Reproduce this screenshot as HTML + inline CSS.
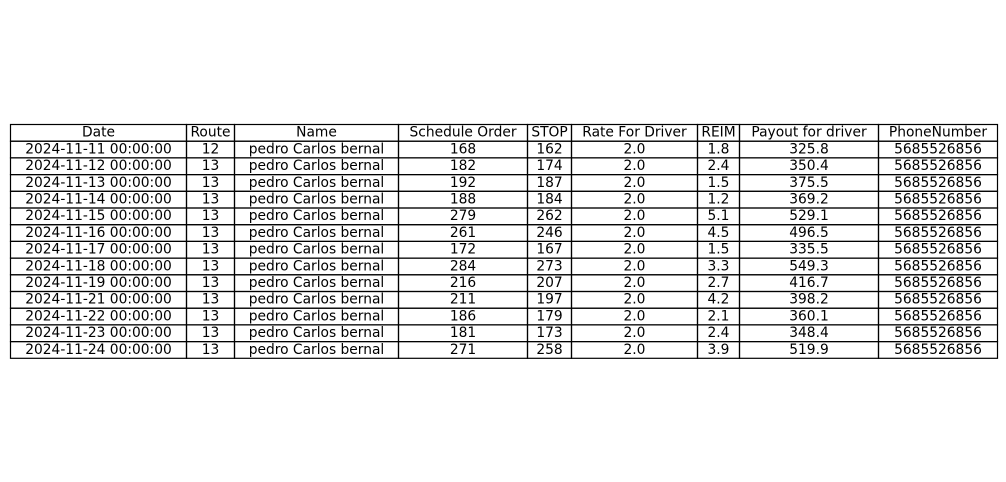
<!DOCTYPE html>
<html><head><meta charset="utf-8"><style>
html,body{margin:0;padding:0;background:#fff;width:1006px;height:482px;overflow:hidden}
svg text{font-family:"DejaVu Sans","Liberation Sans",sans-serif;font-size:13.8px;fill:#000}
</style></head><body>
<svg id="t" width="1006" height="482"></svg>
<script>
const headers=["Date","Route","Name","Schedule Order","STOP","Rate For Driver","REIM","Payout for driver","PhoneNumber"];
const dates=["2024-11-11","2024-11-12","2024-11-13","2024-11-14","2024-11-15","2024-11-16","2024-11-17","2024-11-18","2024-11-19","2024-11-21","2024-11-22","2024-11-23","2024-11-24"];
const routes=[12,13,13,13,13,13,13,13,13,13,13,13,13];
const orders=[168,182,192,188,279,261,172,284,216,211,186,181,271];
const stops=[162,174,187,184,262,246,167,273,207,197,179,173,258];
const reim=["1.8","2.4","1.5","1.2","5.1","4.5","1.5","3.3","2.7","4.2","2.1","2.4","3.9"];
const payout=["325.8","350.4","375.5","369.2","529.1","496.5","335.5","549.3","416.7","398.2","360.1","348.4","519.9"];
const colEdges=[10.5,186.5,234.5,398.5,527.5,571.5,697.5,739.5,878.5,997.5];
const tableTop=124.5,rowH=16.7;
const svgEl=document.getElementById('t');
const NS="http://www.w3.org/2000/svg";
const allRows=[headers];
for(let i=0;i<dates.length;i++)allRows.push([dates[i]+" 00:00:00",String(routes[i]),"pedro Carlos bernal",String(orders[i]),String(stops[i]),"2.0",reim[i],payout[i],"5685526856"]);
allRows.forEach((r,ri)=>{
  r.forEach((v,ci)=>{
    const rect=document.createElementNS(NS,'rect');
    
    
    rect.setAttribute('x',colEdges[ci]);rect.setAttribute('y',tableTop+ri*rowH);
    rect.setAttribute('width',colEdges[ci+1]-colEdges[ci]);rect.setAttribute('height',rowH);
    rect.setAttribute('fill','none');rect.setAttribute('stroke','#000');rect.setAttribute('stroke-width','1.2');
    svgEl.appendChild(rect);
    const t=document.createElementNS(NS,'text');
    
    
    t.setAttribute('x',(colEdges[ci]+colEdges[ci+1])/2);t.setAttribute('y',tableTop+ri*rowH+rowH/2+3.8);
    t.setAttribute('text-anchor','middle');
    t.textContent=v;
    svgEl.appendChild(t);
  });
});
</script>
</body></html>
